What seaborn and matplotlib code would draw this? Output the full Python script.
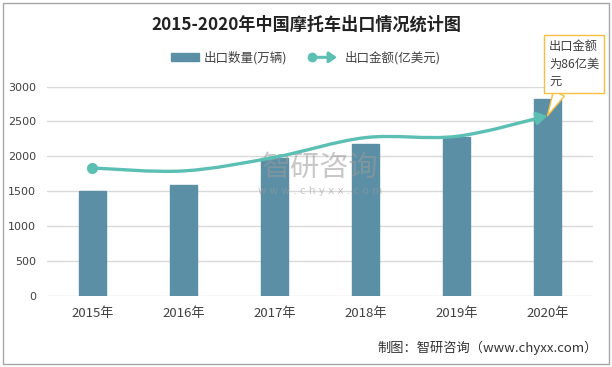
import numpy as np
import matplotlib
matplotlib.use("Agg")
import matplotlib.pyplot as plt
import seaborn as sns
from matplotlib.path import Path
from matplotlib.patches import FancyArrowPatch, Patch, Rectangle
from matplotlib.lines import Line2D
from matplotlib.legend_handler import HandlerBase

years = ["2015年", "2016年", "2017年", "2018年", "2019年", "2020年"]
qty = [1504, 1586, 1976, 2171, 2270, 2814]      # 出口数量(万辆)
value = [61.1, 59.7, 66.2, 75.6, 76.2, 86.0]    # 出口金额(亿美元)
yticks = [0, 500, 1000, 1500, 2000, 2500, 3000]

bar_color = "#5b8fa6"
line_color = "#5cbfb4"

sns.set_style("white")
plt.rcParams['font.family'] = ['Noto Sans CJK SC', 'DejaVu Sans']


class ArrowLineHandler(HandlerBase):
    # legend key: circle at the left, arrow at the right
    def create_artists(self, legend, orig_handle, xdescent, ydescent,
                       width, height, fontsize, trans):
        y = height / 2 - ydescent
        a = FancyArrowPatch((-xdescent, y), (width - xdescent, y),
                            arrowstyle='-|>,head_length=0.5,head_width=0.35',
                            mutation_scale=9, color=line_color, lw=2.2,
                            transform=trans)
        c = Line2D([-xdescent], [y], marker='o', ms=6, color=line_color,
                   transform=trans)
        return [a, c]


fig = plt.figure(figsize=(6.12, 3.67), dpi=100)
ax = fig.add_axes([0.0768, 0.1935, 0.892, 0.5708])

sns.barplot(x=years, y=qty, ax=ax, color=bar_color, width=0.3,
            saturation=1, edgecolor=bar_color)
ax.set_ylim(0, 3000)
ax.set_xlim(-0.5, len(years) - 0.5)
ax.set_yticks(yticks)
ax.yaxis.grid(True, color="#d9d9d9", lw=1)
ax.set_axisbelow(True)
for s in ax.spines.values():
    s.set_visible(False)
ax.tick_params(axis='both', length=0, colors="#404040")
ax.tick_params(axis='y', labelsize=8, pad=8)
ax.tick_params(axis='x', labelsize=9.5, pad=8)
for lab in ax.get_yticklabels():
    lab.set_family(['DejaVu Sans'])

# watermark
ax.text(0.5, 0.61, "智研咨询", transform=ax.transAxes, ha='center', va='center',
        fontsize=21, color="#9a9a9a", alpha=0.55, zorder=3)
ax.text(0.5, 0.5, "w w w . c h y x x . c o m", transform=ax.transAxes,
        ha='center', va='center', fontsize=7.5, color="#9a9a9a", alpha=0.55,
        zorder=3, family=['DejaVu Sans'])

# secondary axis for export value (hidden)
ax2 = ax.twinx()
ax2.set_ylim(0, 100)
ax2.axis('off')

# smooth curve through the points (Catmull-Rom as bezier)
xs = np.arange(len(value), dtype=float)
ys = np.array(value, dtype=float)
pts = np.column_stack([xs, ys])
ext = np.vstack([pts[0], pts, pts[-1]])
verts = [tuple(pts[0])]
codes = [Path.MOVETO]
for i in range(len(pts) - 1):
    p0, p1, p2, p3 = ext[i], ext[i + 1], ext[i + 2], ext[i + 3]
    c1 = p1 + (p2 - p0) / 6
    c2 = p2 - (p3 - p1) / 6
    verts += [tuple(c1), tuple(c2), tuple(p2)]
    codes += [Path.CURVE4] * 3
arrow = FancyArrowPatch(path=Path(verts, codes),
                        arrowstyle='-|>,head_length=0.5,head_width=0.3',
                        mutation_scale=12, color=line_color, lw=2.4,
                        transform=ax2.transData, zorder=4)
ax2.add_patch(arrow)
ax2.plot([xs[0]], [ys[0]], marker='o', ms=7, color=line_color, zorder=5)

# callout for 2020
ax2.annotate("出口金额\n为86亿美\n元", xy=(xs[-1], ys[-1]), xycoords='data',
             xytext=(549, 327), textcoords='figure pixels',
             fontsize=8.8, color="#404040", ha='left', va='top',
             linespacing=1.45,
             bbox=dict(boxstyle='square,pad=0.4', fc='white', ec="#f5c040", lw=1),
             arrowprops=dict(arrowstyle='wedge,tail_width=1.0', fc='white',
                             ec="#f5c040", lw=1, shrinkA=0, shrinkB=0),
             zorder=6, annotation_clip=False)

# title and legend
fig.text(0.5, 0.932, "2015-2020年中国摩托车出口情况统计图", ha='center',
         va='center', fontsize=12.3, fontweight='bold', color="#222222")
handles = [Patch(color=bar_color), Line2D([], [], color=line_color)]
fig.legend(handles, ["出口数量(万辆)", "出口金额(亿美元)"],
           handler_map={Line2D: ArrowLineHandler()},
           loc='center', bbox_to_anchor=(0.5, 0.842), ncol=2, frameon=False,
           fontsize=9, handlelength=2.2, handleheight=0.6, columnspacing=2.0,
           handletextpad=0.4, labelcolor="#404040")

fig.text(0.977, 0.052, "制图：智研咨询（www.chyxx.com）", ha='right',
         va='center', fontsize=9.5, color="#333333")

# outer frame
fig.add_artist(Rectangle((0.005, 0.008), 0.99, 0.984, transform=fig.transFigure,
                         fill=False, ec="#a6a6a6", lw=1))

fig.savefig("out.png", dpi=100)
